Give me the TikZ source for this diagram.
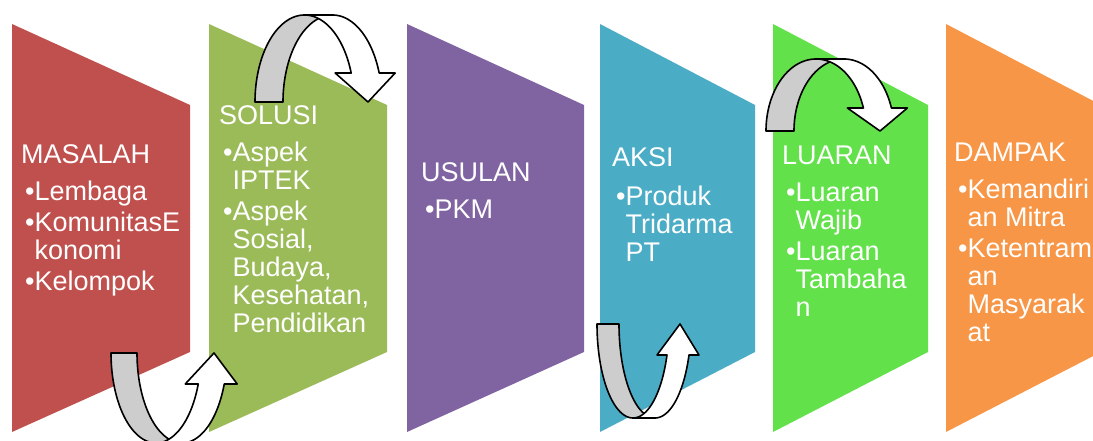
\documentclass[tikz,border=0pt]{standalone}
\usepackage{fontspec}
\setmainfont{Liberation Sans}
\usepackage{tikz}
\usetikzlibrary{calc}

\definecolor{masalahred}{HTML}{C0504D}
\definecolor{solusigreen}{HTML}{9BBB59}
\definecolor{usulanpurple}{HTML}{8064A2}
\definecolor{aksiteal}{HTML}{4BACC6}
\definecolor{luarangreen}{HTML}{62E14A}
\definecolor{dampakorange}{HTML}{F79646}
\definecolor{ribbongray}{HTML}{CDCDCD}

\newcommand{\itm}{\hspace*{4pt}\textbullet}
\newcommand{\hng}{\hspace*{4pt}\phantom{\textbullet}}

\begin{document}
\begin{tikzpicture}[x=1pt,y=-1pt,
    stagetext/.style={anchor=north west,inner sep=0pt,text=white,align=left,
      font=\fontsize{27}{28}\selectfont},
    backband/.style={fill=ribbongray,draw=black,line width=1.6pt,line join=round},
    frontband/.style={fill=white,draw=black,line width=1.6pt,line join=round}]
  \useasboundingbox (0,0) rectangle (1093,441);
  \clip (0,0) rectangle (1093,441);
  % stages
  \foreach \xa/\xb/\col in {12/190/masalahred,209/387/solusigreen,407/584/usulanpurple,
      600/755/aksiteal,773/928/luarangreen,946/1101/dampakorange}
    \fill[\col] (\xa,24) -- (\xb,105) -- (\xb,352) -- (\xa,432) -- cycle;
  % text blocks, placed by the top of the first line
  \node[stagetext] (masalah) at (21,144.6) {MASALAH\\[9pt]\itm Lembaga\\[3pt]\itm KomunitasE\\\hng konomi\\[3pt]\itm Kelompok};
  \node[stagetext] (solusi) at (219,105.2) {SOLUSI\\[9pt]\itm Aspek\\\hng IPTEK\\[3pt]\itm Aspek\\\hng Sosial,\\\hng Budaya,\\\hng Kesehatan,\\\hng Pendidikan};
  \node[stagetext] (usulan) at (421,162.4) {USULAN\\[9pt]\itm PKM};
  \node[stagetext] (aksi) at (612,147.6) {AKSI\\[11pt]\itm Produk\\\hng Tridarma\\\hng PT};
  \node[stagetext] (luaran) at (782,145.6) {LUARAN\\[9pt]\itm Luaran\\\hng Wajib\\[3pt]\itm Luaran\\\hng Tambaha\\\hng n};
  \node[stagetext] (dampak) at (954,142.6) {DAMPAK\\[9pt]\itm Kemandiri\\\hng an Mitra\\[3pt]\itm Ketentram\\\hng an\\\hng Masyarak\\\hng at};
  % curved ribbon arrows
  \foreach \cx/\cy/\rx/\ry/\bw/\sg/\hb/\w in {156/353/45/90/26/1/31/13,304.5/102/49.5/87/28/-1/29/16,
      633/324/36/94/22/1/31/10,816/131/50/72/28/-1/23/16}{
    \pgfmathsetmacro\tz{asin(\hb/\ry)}
    \pgfmathsetmacro\xl{\cx+\rx*cos(\tz)}
    \pgfmathsetmacro\xr{\xl+\bw}
    \pgfmathsetmacro\yb{\cy+\sg*\hb}
    \filldraw[backband] plot[domain=180:90,samples=40,variable=\t] ({\cx+\rx*cos(\t)},{\cy+\sg*\ry*sin(\t)})
      -- plot[domain=90:180,samples=40,variable=\t] ({\cx+\bw+\rx*cos(\t)},{\cy+\sg*\ry*sin(\t)}) -- cycle;
    \filldraw[frontband] plot[domain=90:\tz,samples=40,variable=\t] ({\cx+\rx*cos(\t)},{\cy+\sg*\ry*sin(\t)})
      -- (\xl-\w,\yb) -- (\cx+\rx+\bw/2,\cy) -- (\xr+\w,\yb)
      -- plot[domain=\tz:90,samples=40,variable=\t] ({\cx+\bw+\rx*cos(\t)},{\cy+\sg*\ry*sin(\t)}) -- cycle;
  }
\end{tikzpicture}
\end{document}
